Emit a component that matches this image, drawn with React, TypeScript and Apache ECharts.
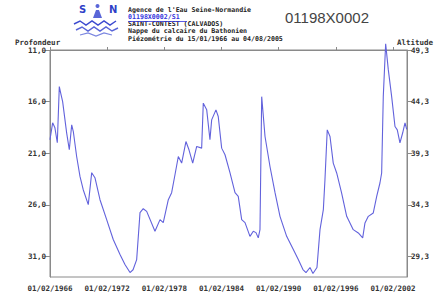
import React, { useEffect, useRef } from "react";
import * as echarts from "echarts";

// Decimal years
const years = [
  1966.08, 1966.36, 1966.6, 1966.85, 1967.06, 1967.2, 1967.41, 1967.83, 1968.11, 1968.36,
  1968.53, 1968.88, 1969.23, 1969.57, 1970.1, 1970.46, 1970.8, 1971.33, 1972.03, 1972.72,
  1973.43, 1973.95, 1974.48, 1974.8, 1975.18, 1975.53, 1975.87, 1976.23, 1977.1, 1977.63,
  1977.97, 1978.5, 1978.85, 1979.2, 1979.55, 1979.9, 1980.35, 1980.67, 1981.06, 1981.48,
  1982.0, 1982.17, 1982.53, 1982.87, 1983.05, 1983.5, 1983.74, 1984.1, 1984.45, 1984.97,
  1985.5, 1985.84, 1986.2, 1986.55, 1987.07, 1987.42, 1987.7, 1987.94, 1988.12, 1988.3,
  1988.65, 1989.17, 1989.7, 1990.22, 1990.92, 1991.62, 1992.14, 1992.63, 1992.95, 1993.37,
  1993.68, 1994.1, 1994.42, 1994.77, 1994.94, 1995.18, 1995.47, 1995.81, 1996.17, 1996.69,
  1997.22, 1997.91, 1998.44, 1998.9, 1999.14, 1999.49, 2000.01, 2000.37, 2000.71, 2000.89,
  2001.06, 2001.31, 2001.59, 2001.94, 2002.29, 2002.53, 2002.81, 2003.1, 2003.34, 2003.52,
];
// Depth (m)
const depth = [
  19.7, 18.06, 18.54, 19.99, 14.55, 15.16, 16.0, 19.03, 20.67, 18.25,
  18.9, 21.32, 23.25, 24.54, 25.99, 22.89, 23.38, 25.51, 27.44, 29.37,
  30.82, 31.79, 32.57, 32.3, 31.31, 26.76, 26.38, 26.64, 28.57, 27.44,
  27.73, 25.51, 24.83, 23.09, 21.32, 21.96, 19.87, 20.67, 21.96, 20.35,
  20.51, 16.15, 16.8, 19.7, 17.77, 16.8, 17.45, 20.51, 21.15, 22.89,
  24.83, 25.19, 27.44, 27.73, 29.06, 28.57, 28.7, 29.21, 28.41, 15.52,
  19.38, 22.29, 24.83, 27.12, 29.06, 30.34, 31.31, 32.28, 32.57, 32.08,
  32.66, 32.08, 28.41, 26.47, 23.57, 18.74, 19.38, 21.96, 22.92, 24.86,
  27.12, 28.41, 28.73, 29.21, 27.76, 27.12, 26.79, 25.19, 23.89, 22.92,
  15.52, 10.4, 12.93, 15.52, 18.42, 18.74, 20.0, 19.02, 18.06, 18.7,
];

const xStartYear = 1966.0833; // 01/02/1966
const xEndYear = 2003.55;
const depthTop = 11;
const depthBottom = 33;
const altitudeRef = 60.3; // altitude = altitudeRef - depth

const headerLines = [
  "Agence de l'Eau Seine-Normandie",
  "01198X0002/S1",
  "SAINT-CONTEST (CALVADOS)",
  "Nappe du calcaire du Bathonien",
  "Piézométrie du 15/01/1966 au 04/08/2005",
];
const stationCode = "01198X0002";

const mono = "DejaVu Sans Mono";

export default function App() {
  const ref = useRef<HTMLDivElement>(null);
  useEffect(() => {
    if (!ref.current) return;
    const chart = echarts.init(ref.current, null, { renderer: "svg" });
    const data = years.map((y, i) => [y - xStartYear, depth[i] - depthTop]);
    const fmt = (v: number) => v.toFixed(1).replace(".", ",");
    const axisLine = { show: true, lineStyle: { color: "#8a8a8a", width: 1 } };
    const labelStyle = { color: "#333", fontFamily: mono, fontSize: 7.5, fontWeight: "bold" as const };

    const headerTexts = headerLines.map((t, i) => ({
      type: "text",
      left: 128,
      top: 6 + i * 7.3,
      style: {
        text: t,
        fill: i === 1 ? "#3333dd" : "#222",
        font: `bold 6.6px "${mono}"`,
      },
    }));

    chart.setOption({
      animation: false,
      grid: {
        left: 50,
        right: 27,
        top: 50,
        bottom: 22,
        show: true,
        borderColor: "#8a8a8a",
        borderWidth: 1,
        backgroundColor: "transparent",
      },
      xAxis: {
        type: "value",
        min: 0,
        max: xEndYear - xStartYear,
        interval: 6,
        axisLine,
        axisTick: { show: true, inside: true, length: 3, lineStyle: { color: "#8a8a8a" } },
        splitLine: { show: false },
        axisLabel: {
          ...labelStyle,
          margin: 7,
          showMaxLabel: false,
          formatter: (v: number) => "01/02/" + Math.round(1966 + v),
        },
      },
      yAxis: [
        {
          type: "value",
          inverse: true,
          position: "left",
          min: 0,
          max: depthBottom - depthTop,
          interval: 5,
          axisLine,
          axisTick: { show: true, length: 5, lineStyle: { color: "#8a8a8a" } },
          splitLine: { show: false },
          axisLabel: {
            ...labelStyle,
            margin: 4,
            showMaxLabel: false,
            formatter: (v: number) => fmt(v + depthTop),
          },
        },
        {
          type: "value",
          inverse: true,
          position: "right",
          min: 0,
          max: depthBottom - depthTop,
          interval: 5,
          axisLine,
          axisTick: { show: true, length: 5, lineStyle: { color: "#8a8a8a" } },
          splitLine: { show: false },
          axisLabel: {
            ...labelStyle,
            margin: 4,
            showMaxLabel: false,
            formatter: (v: number) => fmt(altitudeRef - (v + depthTop)),
          },
        },
      ],
      series: [
        {
          type: "line",
          data,
          yAxisIndex: 0,
          showSymbol: false,
          clip: false,
          lineStyle: { color: "#6262dc", width: 1.1 },
        },
      ],
      graphic: [
        { type: "text", left: 15, top: 38, style: { text: "Profondeur", fill: "#333", font: `bold 7.5px "${mono}"` } },
        { type: "text", left: 397, top: 38, style: { text: "Altitude", fill: "#333", font: `bold 7.5px "${mono}"` } },
        ...headerTexts,
        { type: "line", shape: { x1: 128, y1: 21.5, x2: 187, y2: 21.5 }, style: { stroke: "#3333dd", lineWidth: 0.8 } },
        { type: "text", left: 285, top: 10, style: { text: stationCode, fill: "#444", font: '15px "Liberation Sans"' } },
        // logo
        { type: "text", left: 79, top: 4, style: { text: "S", fill: "#2f3fc8", font: 'bold 10px "DejaVu Sans"' } },
        { type: "text", left: 109, top: 4, style: { text: "N", fill: "#2f3fc8", font: 'bold 10px "DejaVu Sans"' } },
        { type: "polygon", shape: { points: [[93, 18], [96, 10], [99, 10], [102, 18]] }, style: { fill: "#5a66d8" } },
        { type: "circle", shape: { cx: 97.5, cy: 6, r: 2 }, style: { fill: "#5a66d8" } },
        { type: "polyline", shape: { points: [[74, 24], [80, 21], [86, 25], [92, 21], [98, 25], [104, 21], [110, 25], [116, 21]] }, style: { stroke: "#3d4bd0", lineWidth: 1.5, fill: "none" } },
        { type: "polyline", shape: { points: [[76, 30], [82, 27], [88, 31], [94, 27], [100, 31], [106, 27], [112, 31], [118, 28]] }, style: { stroke: "#5a66d8", lineWidth: 1.5, fill: "none" } },
        { type: "polyline", shape: { points: [[80, 35], [88, 33], [96, 36], [104, 33], [112, 35]] }, style: { stroke: "#7b86e0", lineWidth: 1.2, fill: "none" } },
      ],
    });
    return () => chart.dispose();
  }, []);
  return (
    <div
      ref={ref}
      style={{ position: "fixed", left: 0, top: 0, width: 434, height: 299, background: "#fff" }}
    />
  );
}
